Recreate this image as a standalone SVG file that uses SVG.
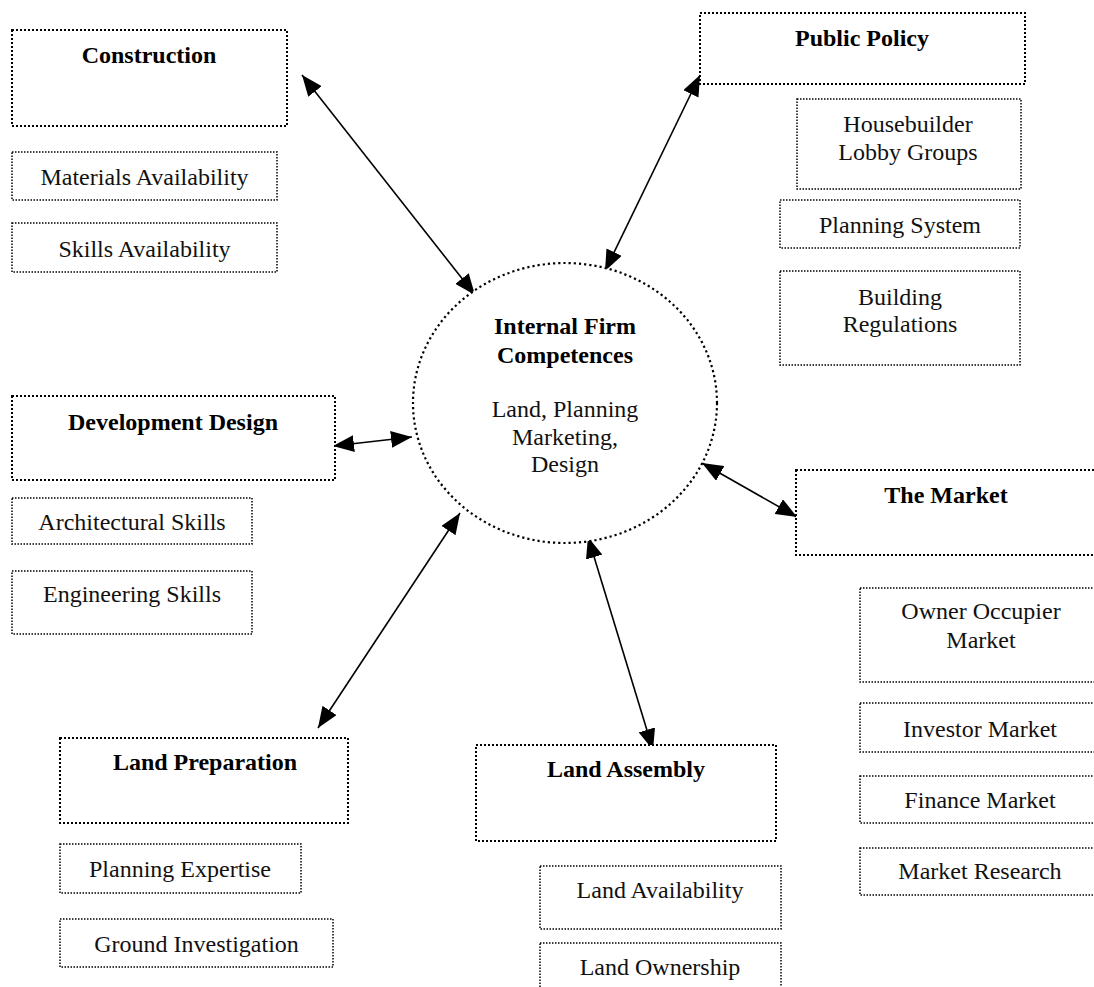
<svg xmlns="http://www.w3.org/2000/svg" width="1094" height="987" viewBox="0 0 1094 987">
  <style>
    .main { fill: #fff; stroke: #000; stroke-width: 2; stroke-dasharray: 2 2; }
    .sub { fill: #fff; stroke: #000; stroke-width: 1.5; stroke-dasharray: 1.5 1.5; }
    .core { fill: #fff; stroke: #000; stroke-width: 2.2; stroke-dasharray: 2.2 3; }
    text { font-family: "Liberation Serif", "Times New Roman", serif; font-size: 24px; fill: #111; text-anchor: middle; }
    .title { font-weight: bold; fill: #000; }
    .link { stroke: #000; stroke-width: 1.6; fill: none; marker-start: url(#head); marker-end: url(#head); }
  </style>
  <defs>
    <marker id="head" markerUnits="userSpaceOnUse" markerWidth="21" markerHeight="17" viewBox="0 0 21 17" refX="21" refY="8.5" orient="auto-start-reverse">
      <path d="M0,0 L21,8.5 L0,17 z" fill="#000"/>
    </marker>
  </defs>
  <rect width="1094" height="987" fill="#fff"/>

  <!-- connectors between the core and each area -->
  <g id="connectors">
    <line class="link" x1="302" y1="75" x2="475" y2="295"/>
    <line class="link" x1="700" y1="75" x2="605" y2="271"/>
    <line class="link" x1="333" y1="446" x2="412" y2="437"/>
    <line class="link" x1="702" y1="463" x2="797" y2="517"/>
    <line class="link" x1="460" y1="513" x2="318" y2="728"/>
    <line class="link" x1="588" y1="537" x2="653" y2="750"/>
  </g>

  <g id="core">
    <ellipse class="core" cx="565" cy="403" rx="152" ry="140"/>
    <text class="title" x="565" y="334">Internal Firm</text>
    <text class="title" x="565" y="363">Competences</text>
    <text x="565" y="417">Land, Planning</text>
    <text x="565" y="445">Marketing,</text>
    <text x="565" y="472">Design</text>
  </g>

  <g id="construction">
    <rect class="main" x="12" y="30" width="275" height="96"/>
    <text class="title" x="149" y="63">Construction</text>
  </g>
  <g id="materials-availability">
    <rect class="sub" x="12" y="152" width="265" height="48"/>
    <text x="144.5" y="185">Materials Availability</text>
  </g>
  <g id="skills-availability">
    <rect class="sub" x="12" y="223" width="265" height="49"/>
    <text x="144.5" y="257">Skills Availability</text>
  </g>

  <g id="public-policy">
    <rect class="main" x="700" y="13" width="325" height="71"/>
    <text class="title" x="862" y="46">Public Policy</text>
  </g>
  <g id="housebuilder-lobby">
    <rect class="sub" x="797" y="99" width="224" height="90"/>
    <text x="908" y="132">Housebuilder</text>
    <text x="908" y="160">Lobby Groups</text>
  </g>
  <g id="planning-system">
    <rect class="sub" x="780" y="200" width="240" height="48"/>
    <text x="900" y="233">Planning System</text>
  </g>
  <g id="building-regulations">
    <rect class="sub" x="780" y="271" width="240" height="94"/>
    <text x="900" y="305">Building</text>
    <text x="900" y="332">Regulations</text>
  </g>

  <g id="development-design">
    <rect class="main" x="12" y="396" width="323" height="84"/>
    <text class="title" x="173" y="430">Development Design</text>
  </g>
  <g id="architectural-skills">
    <rect class="sub" x="12" y="498" width="240" height="46"/>
    <text x="132" y="530">Architectural Skills</text>
  </g>
  <g id="engineering-skills">
    <rect class="sub" x="12" y="571" width="240" height="63"/>
    <text x="132" y="602">Engineering Skills</text>
  </g>

  <g id="the-market">
    <rect class="main" x="796" y="470" width="310" height="85"/>
    <text class="title" x="946" y="503">The Market</text>
  </g>
  <g id="owner-occupier">
    <rect class="sub" x="860" y="588" width="246" height="94"/>
    <text x="981" y="619">Owner Occupier</text>
    <text x="981" y="648">Market</text>
  </g>
  <g id="investor-market">
    <rect class="sub" x="860" y="703" width="246" height="49"/>
    <text x="980" y="737">Investor Market</text>
  </g>
  <g id="finance-market">
    <rect class="sub" x="860" y="776" width="246" height="47"/>
    <text x="980" y="808">Finance Market</text>
  </g>
  <g id="market-research">
    <rect class="sub" x="860" y="848" width="246" height="47"/>
    <text x="980" y="879">Market Research</text>
  </g>

  <g id="land-preparation">
    <rect class="main" x="60" y="738" width="288" height="85"/>
    <text class="title" x="205" y="770">Land Preparation</text>
  </g>
  <g id="planning-expertise">
    <rect class="sub" x="60" y="844" width="241" height="49"/>
    <text x="180" y="877">Planning Expertise</text>
  </g>
  <g id="ground-investigation">
    <rect class="sub" x="60" y="919" width="273" height="48"/>
    <text x="196.5" y="952">Ground Investigation</text>
  </g>

  <g id="land-assembly">
    <rect class="main" x="476" y="745" width="300" height="96"/>
    <text class="title" x="626" y="777">Land Assembly</text>
  </g>
  <g id="land-availability">
    <rect class="sub" x="540" y="866" width="241" height="63"/>
    <text x="660" y="898">Land Availability</text>
  </g>
  <g id="land-ownership">
    <rect class="sub" x="540" y="943" width="241" height="60"/>
    <text x="660" y="975">Land Ownership</text>
  </g>
</svg>
